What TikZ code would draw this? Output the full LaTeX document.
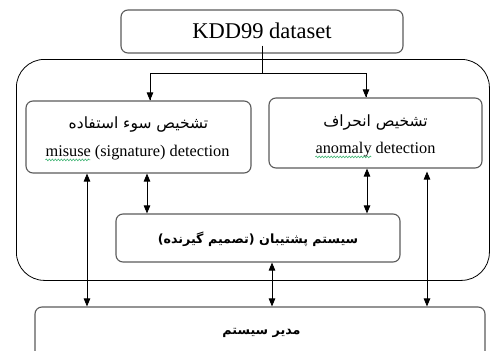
\documentclass[tikz,border=0pt]{standalone}
\usepackage{fontspec}
\usetikzlibrary{calc,arrows.meta,decorations.pathmorphing}
\setmainfont{Liberation Serif}
\newfontfamily\fa[Script=Arabic]{DejaVu Sans}
\TeXXeTstate=1
\definecolor{boxgray}{HTML}{5A5A5A}
\definecolor{squig}{HTML}{3CB371}
\tikzset{
  box/.style={draw=boxgray, line width=1.1pt, rounded corners=7pt, inner sep=0pt},
  en/.style={font=\fontsize{16.3}{18}\selectfont, inner sep=0pt},
  fatxt/.style={font=\fa\fontsize{15.5}{17}\selectfont, inner sep=0pt},
  fabold/.style={font=\fa\bfseries\fontsize{12.7}{14}\selectfont, inner sep=0pt},
  arr/.style={line width=0.9pt, -{Triangle[length=8pt,width=6.5pt]}},
  dbl/.style={line width=0.9pt, {Triangle[length=8pt,width=6.5pt]}-{Triangle[length=8pt,width=6.5pt]}},
  squigline/.style={draw=squig, line width=0.6pt, decorate, decoration={snake, amplitude=0.9pt, segment length=3pt}},
}
\begin{document}
\begin{tikzpicture}[x=1pt,y=-1pt]
\useasboundingbox (0,0) rectangle (491,351);
% outer container
\node[draw=black, line width=0.8pt, rounded corners=28pt, minimum width=473pt, minimum height=221pt, anchor=north west, inner sep=0pt] (cont) at (16,59) {};
% KDD box
\node[box, minimum width=282pt, minimum height=43pt] (kdd) at (262,31.5) {};
\node[font=\fontsize{22.5}{24}\selectfont, inner sep=0pt] (kddtxt) at (262,31) {KDD99 dataset};
% detection boxes
\node[box, minimum width=225pt, minimum height=72pt] (misuse) at (138.5,137) {};
\node[fatxt] (misusefa) at ($(misuse.center)+(0,-12)$) {\beginR تشخیص سوء استفاده\endR};
\node[en] (misuseen) at ($(misuse.center)+(-1,16)$) {misuse (signature) detection};
\node[box, minimum width=213pt, minimum height=70pt] (anomaly) at (375.5,133) {};
\node[fatxt] (anomalyfa) at ($(anomaly.center)+(0,-10)$) {\beginR تشخیص انحراف\endR};
\node[en] (anomalyen) at ($(anomaly.center)+(0,17)$) {anomaly detection};
\draw[squigline] ($(misuseen.base west)+(0,3)$) -- ++(45,0);
\draw[squigline] ($(anomalyen.base west)+(0,3)$) -- ++(56,0);
% middle box
\node[box, minimum width=284pt, minimum height=48pt] (middle) at (258,238) {};
\node[fabold] (middletxt) at (258,239) {\beginR سیستم پشتیبان (تصمیم گیرنده)\endR};
% bottom box
\node[box, minimum width=450pt, minimum height=66pt] (mgr) at (260,340) {};
\node[fabold] (mgrtxt) at (261.5,333) {\beginR مدیر سیستم\endR};
% connectors
\coordinate (split) at (262,73);
\draw[line width=0.9pt] ($(kdd.south)+(0,-8)$) -- (split);
\draw[line width=0.9pt] ($(misuse.north)+(11.5,0)$) coordinate (ml) |- (split);
\draw[line width=0.9pt] (split) -| ($(anomaly.north)+(-9.5,0)$) coordinate (ar);
\draw[arr] (split -| ml) -- (ml);
\draw[arr] (split -| ar) -- (ar);
\draw[dbl] ($(misuse.south)+(8.5,0)$) coordinate (a1) -- (a1 |- middle.north);
\draw[dbl] ($(anomaly.south)+(-8.5,0)$) coordinate (a2) -- (a2 |- middle.north);
\draw[dbl] ($(misuse.south)+(-51.5,0)$) coordinate (a3) -- (a3 |- mgr.north);
\draw[dbl, shorten <=3pt] ($(anomaly.south)+(51.5,0)$) coordinate (a4) -- (a4 |- mgr.north);
\draw[dbl] ($(middle.south)+(14,0)$) coordinate (a5) -- (a5 |- mgr.north);
\end{tikzpicture}
\end{document}
